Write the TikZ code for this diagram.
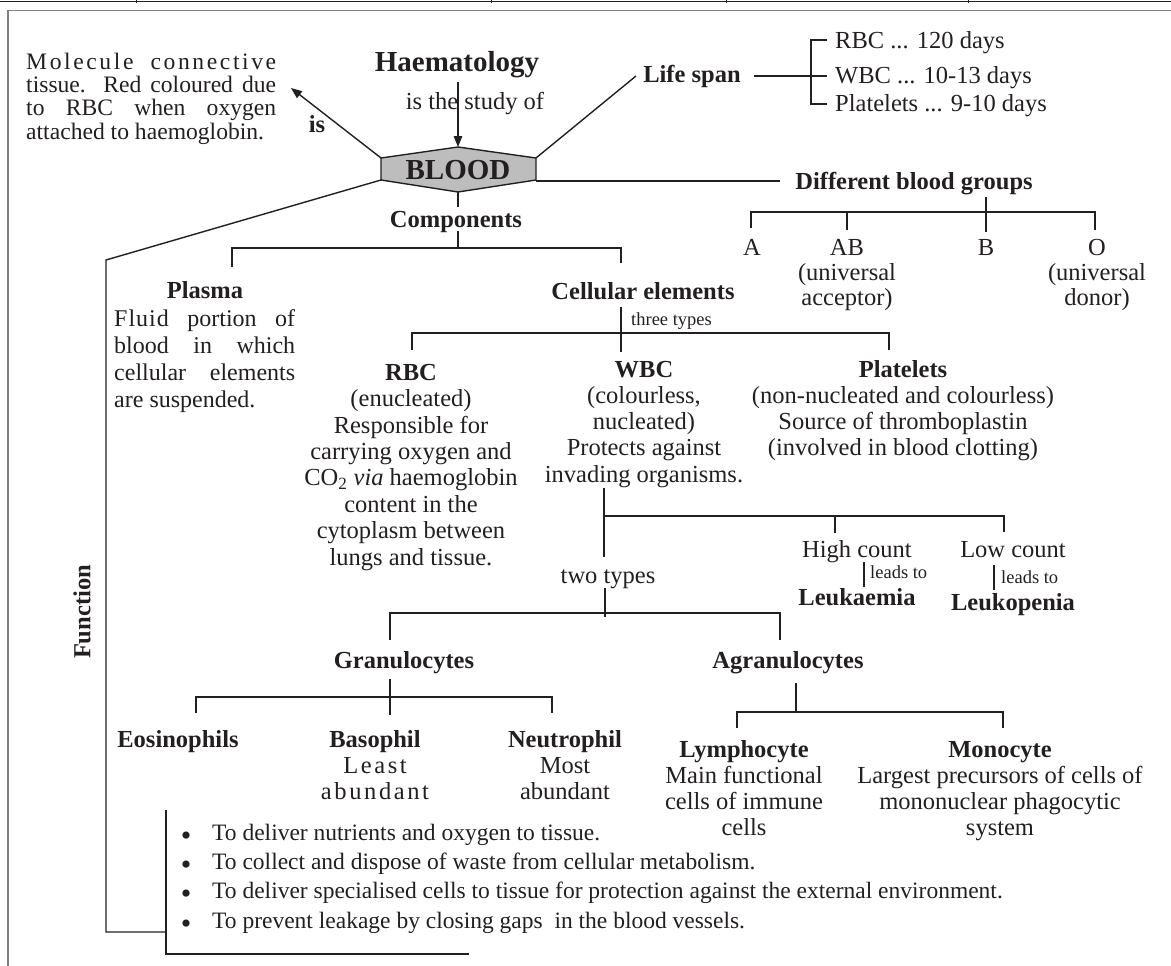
\documentclass[tikz,border=0pt]{standalone}
\usepackage{fontspec}
\setmainfont{Liberation Serif}
\usetikzlibrary{arrows.meta}
\definecolor{ink}{HTML}{231F20}
\definecolor{hexfill}{HTML}{BDBDBD}
\newcommand\lsp{\kern2.6pt}
\newcommand\bul{\makebox[31.25pt][l]{\raisebox{-5pt}{\fontsize{30}{30}\selectfont\textbullet}}}
\begin{document}
\begin{tikzpicture}[x=1pt,y=-1pt]
\tikzset{
 ln/.style={draw=ink, line width=1.4pt},
 arr/.style={ln, -{Triangle[length=11pt,width=8.5pt]}},
 t/.style={inner sep=0pt, anchor=base, text=ink, align=center, font=\fontsize{24.5}{26.4}\selectfont},
 tb/.style={t, font=\fontsize{24.5}{26.4}\selectfont\bfseries},
 ts/.style={inner sep=0pt, anchor=base west, text=ink, font=\fontsize{18.5}{20}\selectfont},
 big/.style={t, font=\fontsize{29}{30}\selectfont\bfseries},
}
\useasboundingbox (0,0) rectangle (1171,966);
% page frame
\draw[ink, line width=1.6pt] (0,1.5) -- (1171,1.5);
\foreach \xx in {136,491,726,968} \draw[ink, line width=1pt] (\xx,0) -- (\xx,3.5);
\draw[gray, line width=1.3pt] (1171,10.5) -- (8,10.5) -- (8,966);

% BLOOD hexagon
\coordinate (hl1) at (381,158);
\coordinate (ht) at (458,147);
\coordinate (hr1) at (536,158);
\coordinate (hr2) at (536,180);
\coordinate (hb) at (458,192);
\coordinate (hl2) at (381,180);
\draw[ln, fill=hexfill] (hl1) -- (ht) -- (hr1) -- (hr2) -- (hb) -- (hl2) -- cycle;
\node[big] (blood) at (458,179) {BLOOD};

% top (multi-line nodes are placed by the baseline of their last line)
\node[t, anchor=base west, align=left, font=\fontsize{23.6}{23.4}\selectfont] (molec) at (26,139.2)
 {\makebox[250pt][s]{M\lsp o\lsp l\lsp e\lsp c\lsp u\lsp l\lsp e c\lsp o\lsp n\lsp n\lsp e\lsp c\lsp t\lsp i\lsp v\lsp e}\\\makebox[250pt][s]{tissue. Red coloured due}\\\makebox[250pt][s]{to RBC when oxygen}\\attached to haemoglobin.};
\node[big] (haem) at (457,72) {Haematology};
\coordinate (haemS) at (458,82);
\draw[arr] (haemS) -- (ht);
\node[t] (study) at (475,110) {is the study of};
\coordinate (isTip) at (291,88);
\draw[arr] (hl1) -- (isTip);
\node[tb] (is) at (317,132) {is};

% life span
\node[tb] (life) at (692,82) {Life span};
\coordinate (lifeW) at (636,76);
\draw[ln] (hr1) -- (lifeW);
\coordinate (lifeE) at (754,76);
\coordinate (brM) at (827,76);
\draw[ln] (lifeE) -- (brM);
\draw[ln] (827,40) -- (811,40) -- (811,104) -- (827,104);
\node[t, anchor=base west] (lrbc) at (835,49) {RBC ... 120 days};
\node[t, anchor=base west] (lwbc) at (835,84) {WBC ... 10-13 days};
\node[t, anchor=base west] (lplt) at (835,112) {Platelets ... 9-10 days};

% blood groups
\node[tb] (diff) at (914,189) {Different blood groups};
\coordinate (diffW) at (780,181);
\draw[ln] (536,181) -- (diffW);
\draw[ln] (986,197) -- (986,232);
\draw[ln] (751,228) -- (751,212) -- (1095,212) -- (1095,230);
\draw[ln] (847,212) -- (847,230);
\node[t] (ga) at (752,255) {A};
\node[t, font=\fontsize{24.5}{25}\selectfont] (gab) at (847,305) {AB\\(universal\\acceptor)};
\node[t] (gb) at (986,255) {B};
\node[t, font=\fontsize{24.5}{25}\selectfont] (go) at (1097,305) {O\\(universal\\donor)};

% components
\node[tb] (comp) at (456,227) {Components};
\draw[ln] (hb) -- (458,207);
\draw[ln] (458,231) -- (458,248);
\draw[ln] (232,267) -- (232,248) -- (621,248) -- (621,263);

% plasma
\node[tb] (plasma) at (205,298) {Plasma};
\node[t, anchor=base west, align=left, font=\fontsize{24}{26.7}\selectfont] (plasmaT) at (114,407)
 {\makebox[181pt][s]{F\kern1pt l\kern1pt u\kern1pt i\kern1pt d portion of}\\\makebox[181pt][s]{blood in which}\\\makebox[181pt][s]{cellular elements}\\are suspended.};

% cellular elements
\node[tb] (cell) at (643,299) {Cellular elements};
\draw[ln] (621,307) -- (621,352);
\node[ts] (three) at (631,325) {three types};
\draw[ln] (412,350) -- (412,333) -- (889,333) -- (889,350);

\node[t] (rbc) at (411,565) {\textbf{RBC}\\(enucleated)\\Responsible for\\carrying oxygen and\\CO\textsubscript{2} \textit{via} haemoglobin\\content in the\\cytoplasm between\\lungs and tissue.};
\node[t, font=\fontsize{24.5}{26.25}\selectfont] (wbc) at (644,482) {\textbf{WBC}\\(colourless,\\nucleated)\\Protects against\\invading organisms.};
\node[t, font=\fontsize{24.5}{26}\selectfont] (plat) at (903,455) {\textbf{Platelets}\\(non-nucleated and colourless)\\Source of thromboplastin\\(involved in blood clotting)};

% WBC branches
\draw[ln] (604,488) -- (604,557);
\draw[ln] (604,516) -- (1004,516) -- (1004,532);
\draw[ln] (835,516) -- (835,533);
\node[t] (high) at (857,557) {High count};
\draw[ln] (864,562) -- (864,587);
\node[ts] (lead1) at (870,578) {leads to};
\node[tb] (leuk) at (857,605) {Leukaemia};
\node[t] (low) at (1013,557) {Low count};
\draw[ln] (994,565) -- (994,590);
\node[ts] (lead2) at (1001,583) {leads to};
\node[tb] (leukp) at (1013,610) {Leukopenia};

\node[t] (two) at (608,583) {two types};
\draw[ln] (605,588) -- (605,617);
\draw[ln] (390,640) -- (390,613) -- (780,613) -- (780,640);

% granulocytes
\node[tb] (gran) at (404,668) {Granulocytes};
\draw[ln] (390,679) -- (390,715);
\draw[ln] (196,713) -- (196,697) -- (552,697) -- (552,713);
\node[tb] (eos) at (178,747) {Eosinophils};
\node[t, font=\fontsize{24.5}{26}\selectfont] (baso) at (375,799) {\textbf{Basophil}\\L\lsp e\lsp a\lsp s\lsp t\\a\lsp b\lsp u\lsp n\lsp d\lsp a\lsp n\lsp t};
\node[t, font=\fontsize{24.5}{26}\selectfont] (neut) at (565,799) {\textbf{Neutrophil}\\Most\\abundant};

% agranulocytes
\node[tb] (agran) at (788,668) {Agranulocytes};
\draw[ln] (796,683) -- (796,712);
\draw[ln] (737,728) -- (737,712) -- (1003,712) -- (1003,728);
\node[t, font=\fontsize{24.5}{26}\selectfont] (lymph) at (744,835) {\textbf{Lymphocyte}\\Main functional\\cells of immune\\cells};
\node[t, font=\fontsize{24.5}{26}\selectfont] (mono) at (1000,835) {\textbf{Monocyte}\\Largest precursors of cells of\\mononuclear phagocytic\\system};

% function
\node[tb, rotate=90, anchor=center] (func) at (82,612) {Function};
\draw[ln] (hl2) -- (106,260) -- (106,932) -- (166,932);
\draw[ln] (166,810) -- (166,954) -- (469,954);
\node[t, anchor=base west, align=left, font=\fontsize{23.5}{29.3}\selectfont] (funcT) at (180.75,928)
 {\bul To deliver nutrients and oxygen to tissue.\\
  \bul To collect and dispose of waste from cellular metabolism.\\
  \bul To deliver specialised cells to tissue for protection against the external environment.\\
  \bul To prevent leakage by closing gaps\ \ in the blood vessels.};
\end{tikzpicture}
\end{document}
